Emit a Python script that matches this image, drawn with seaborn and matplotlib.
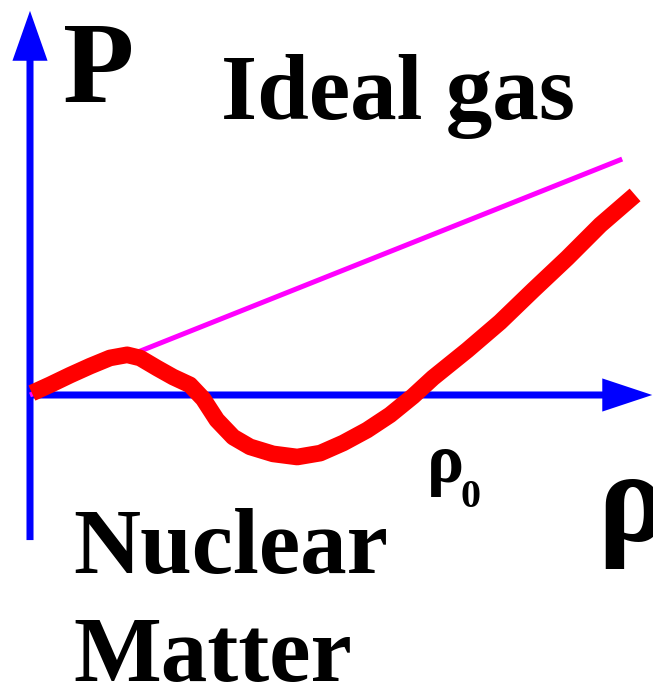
import numpy as np
import pandas as pd
import seaborn as sns
import matplotlib.pyplot as plt

# nuclear matter equation of state (sketch), density vs pressure
rho_nuclear = [0.005, 0.051, 0.103, 0.154, 0.205, 0.249, 0.282, 0.326, 0.367,
               0.410, 0.444, 0.479, 0.521, 0.564, 0.623, 0.685, 0.744, 0.803,
               0.864, 0.923, 0.982, 1.033, 1.121, 1.205, 1.290, 1.377, 1.462, 1.551]
p_nuclear = [0.005, 0.026, 0.051, 0.074, 0.095, 0.103, 0.095, 0.069, 0.046,
             0.026, -0.010, -0.064, -0.108, -0.133, -0.151, -0.159, -0.149, -0.123,
             -0.090, -0.051, -0.003, 0.044, 0.115, 0.187, 0.269, 0.351, 0.436, 0.513]

# ideal gas: straight line
rho_ideal = [0.0, 1.518]
p_ideal = [0.0, 0.605]

sns.set_theme(style="white")
plt.rcParams['font.family'] = ['Liberation Serif', 'DejaVu Serif']
plt.rcParams['font.weight'] = 'bold'

fig = plt.figure(figsize=(6.53, 6.85), dpi=100)
ax = fig.add_axes([0, 0, 1, 1])
ax.set_xlim(-0.0769, 1.597)
ax.set_ylim(-0.7436, 1.0128)
ax.axis('off')

blue = '#0000ff'
# axes with arrows
ax.arrow(0, -0.372, 0, 1.357, width=0.018, head_width=0.09, head_length=0.128,
         length_includes_head=True, color=blue, lw=0)
ax.arrow(0, 0, 1.595, 0, width=0.018, head_width=0.085, head_length=0.128,
         length_includes_head=True, color=blue, lw=0)

ideal = pd.DataFrame({'rho': rho_ideal, 'P': p_ideal})
nuc = pd.DataFrame({'rho': rho_nuclear, 'P': p_nuclear})
sns.lineplot(data=ideal, x='rho', y='P', ax=ax, color='#ff00ff', lw=3.6,
             solid_capstyle='butt')
sns.lineplot(data=nuc, x='rho', y='P', ax=ax, color='#ff0000', lw=12,
             sort=False, solid_capstyle='butt', solid_joinstyle='round')

ax.text(0.0846, 0.751, 'P', fontsize=84, fontweight='bold', color='black',
        ha='left', va='baseline')
ax.text(0.49, 0.708, 'Ideal gas', fontsize=67, fontweight='bold', color='black',
        ha='left', va='baseline')
ax.text(0.11, -0.456, 'Nuclear', fontsize=67, fontweight='bold', color='black',
        ha='left', va='baseline')
ax.text(0.11, -0.733, 'Matter', fontsize=67, fontweight='bold', color='black',
        ha='left', va='baseline')
ax.text(1.455, -0.374, 'ρ', fontsize=94, fontweight='bold', color='black',
        ha='left', va='baseline')
ax.text(1.018, -0.223, 'ρ', fontsize=50, fontweight='bold', color='black',
        ha='left', va='baseline')
ax.text(1.103, -0.287, '0', fontsize=29, fontweight='bold', color='black',
        ha='left', va='baseline')

fig.savefig('out.png', dpi=100)
